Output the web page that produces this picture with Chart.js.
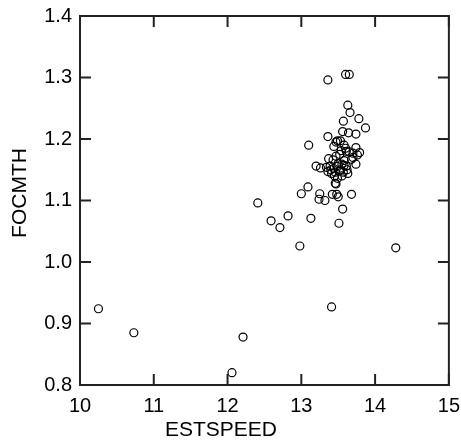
<!DOCTYPE html>
<html>
<head>
<meta charset="utf-8">
<script src="https://cdn.jsdelivr.net/npm/chart.js@4"></script>
<style>
  html, body { margin: 0; padding: 0; background: #fff; }
  canvas { display: block; }
</style>
</head>
<body>
<canvas id="scatter" width="461" height="446"></canvas>
<script>
// ─── Data ────────────────────────────────────────────────────────────────────
const estSpeed = [
    10.25, 10.73, 12.21, 12.06, 12.41, 12.59, 12.71, 12.82, 12.98, 13.13,
    13.00, 13.09, 13.25, 13.24, 13.32, 13.42, 13.48, 13.50, 13.68, 13.56,
    13.51, 13.47, 14.28, 13.41,
    13.36, 13.60, 13.65, 13.63, 13.66, 13.78, 13.57, 13.87, 13.56, 13.64,
    13.74, 13.36, 13.10,
    13.49, 13.53, 13.44, 13.74, 13.60, 13.54, 13.61, 13.65, 13.70, 13.79,
    13.76, 13.47, 13.37, 13.43, 13.68, 13.70, 13.20, 13.26, 13.34, 13.39,
    13.44, 13.48, 13.55, 13.58, 13.61, 13.74, 13.36, 13.41, 13.46, 13.52,
    13.57, 13.63, 13.49, 13.46,
    13.50, 13.53, 13.40, 13.58, 13.62, 13.45, 13.55, 13.52, 13.47, 13.58
];
const focmth = [
    0.924, 0.885, 0.878, 0.820, 1.096, 1.067, 1.056, 1.075, 1.026, 1.071,
    1.111, 1.122, 1.111, 1.102, 1.100, 1.110, 1.110, 1.106, 1.110, 1.086,
    1.063, 1.127, 1.023, 0.927,
    1.296, 1.305, 1.305, 1.255, 1.243, 1.233, 1.229, 1.218, 1.212, 1.210,
    1.208, 1.204, 1.190,
    1.197, 1.197, 1.188, 1.186, 1.185, 1.181, 1.180, 1.179, 1.177, 1.178,
    1.174, 1.172, 1.168, 1.166, 1.167, 1.170, 1.156, 1.153, 1.154, 1.156,
    1.152, 1.156, 1.159, 1.157, 1.156, 1.159, 1.147, 1.144, 1.146, 1.148,
    1.146, 1.144, 1.136, 1.128,
    1.160, 1.150, 1.150, 1.165, 1.150, 1.140, 1.140, 1.175, 1.195, 1.190
];
const xTicks = [10, 11, 12, 13, 14, 15];
const yTicks = [0.8, 0.9, 1.0, 1.1, 1.2, 1.3, 1.4];
const xTitle = 'ESTSPEED';
const yTitle = 'FOCMTH';

const FONT = '"Liberation Sans", Arial, Helvetica, sans-serif';

// ─── Frame + inward ticks on all four sides, plus axis titles ────────────────
const framePlugin = {
    id: 'frame',
    afterDraw(chart) {
        const { ctx, chartArea: a, scales: { x, y } } = chart;
        const tick = 11;
        ctx.save();
        ctx.strokeStyle = '#222';
        ctx.lineWidth = 2;
        ctx.strokeRect(a.left, a.top, a.right - a.left, a.bottom - a.top);

        ctx.beginPath();
        xTicks.forEach(v => {
            const px = x.getPixelForValue(v);
            ctx.moveTo(px, a.bottom); ctx.lineTo(px, a.bottom - tick);
            ctx.moveTo(px, a.top);    ctx.lineTo(px, a.top + tick);
        });
        yTicks.forEach(v => {
            const py = y.getPixelForValue(v);
            ctx.moveTo(a.left, py);  ctx.lineTo(a.left + tick, py);
            ctx.moveTo(a.right, py); ctx.lineTo(a.right - tick, py);
        });
        ctx.stroke();

        // axis titles (sit a little off-centre in the reference)
        ctx.fillStyle = '#000';
        ctx.font = '21px ' + FONT;
        ctx.textAlign = 'center';
        ctx.textBaseline = 'middle';
        ctx.fillText(xTitle, 221, 430);
        ctx.translate(20, 193);
        ctx.rotate(-Math.PI / 2);
        ctx.fillText(yTitle, 0, 0);
        ctx.restore();
    }
};

new Chart(document.getElementById('scatter'), {
    type: 'scatter',
    data: {
        datasets: [{
            data: estSpeed.map((v, i) => ({ x: v, y: focmth[i] })),
            pointStyle: 'circle',
            pointRadius: 4,
            pointHoverRadius: 4,
            borderWidth: 1.2,
            borderColor: '#000',
            backgroundColor: 'rgba(0,0,0,0)'
        }]
    },
    options: {
        responsive: false,
        animation: false,
        layout: { padding: { top: 16, right: 12, left: 0, bottom: 0 } },
        plugins: { legend: { display: false }, tooltip: { enabled: false } },
        scales: {
            x: {
                type: 'linear',
                min: 10, max: 15,
                afterBuildTicks: s => { s.ticks = xTicks.map(v => ({ value: v })); },
                afterFit: s => { s.height = 61; },
                ticks: {
                    color: '#000',
                    font: { size: 20, family: FONT },
                    padding: 1,
                    maxRotation: 0,
                    callback: v => String(v)
                },
                grid: { display: false },
                border: { display: false }
            },
            y: {
                type: 'linear',
                min: 0.8, max: 1.4,
                afterBuildTicks: s => { s.ticks = yTicks.map(v => ({ value: v })); },
                afterFit: s => { s.width = 80; },
                ticks: {
                    color: '#000',
                    font: { size: 20, family: FONT },
                    padding: 0,
                    callback: v => Number(v).toFixed(1)
                },
                grid: { display: false },
                border: { display: false }
            }
        }
    },
    plugins: [framePlugin]
});
</script>
</body>
</html>
